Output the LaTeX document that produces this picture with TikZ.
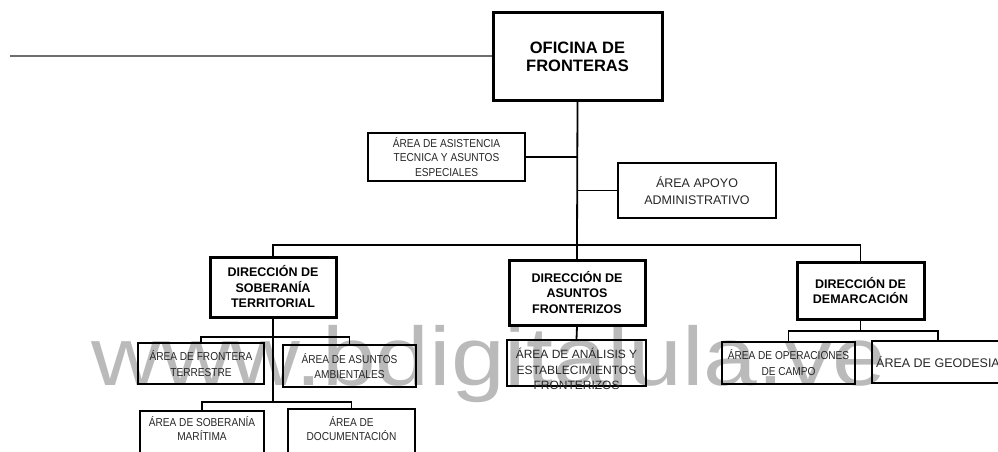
\documentclass[tikz,border=0pt]{standalone}
\usepackage{fontspec}
\setmainfont{Liberation Sans}
\newfontfamily\narrowfont[FakeStretch=0.88]{Liberation Sans}
\definecolor{wmgray}{RGB}{186,186,186}
\definecolor{linegray}{RGB}{110,110,110}
\tikzset{
  bigbox/.style={draw, line width=3pt, align=center, inner sep=0pt, text=black},
  areabox/.style={draw, line width=1.8pt, align=center, inner sep=0pt, text=black!85},
  plaintext/.style={align=center, inner sep=0pt, text=black!85},
  conn/.style={line width=1.8pt, line cap=rect},
  dirfont/.style={font=\fontsize{12.5}{15.5}\selectfont\bfseries},
  smallfont/.style={font=\narrowfont\fontsize{11.5}{14.5}\selectfont},
}
\begin{document}
\begin{tikzpicture}[x=1pt,y=-1pt]
\useasboundingbox (0,0) rectangle (998,452);
% watermark
\node[anchor=base west, inner sep=0pt, text=wmgray, font=\fontsize{83}{90}\selectfont] (wm) at (91,385) {\scalebox{1.165}[1]{www.bdigitalula.ve}};

% top
\node[bigbox, minimum width=169pt, minimum height=87pt, font=\fontsize{16.5}{18}\selectfont\bfseries] (ofi) at (577.5,56.5) {OFICINA DE\\FRONTERAS};
\coordinate (leftend) at (10,56.5);
\draw[line width=2pt, linegray] (leftend) -- (ofi.west);

\node[areabox, minimum width=157pt, minimum height=48pt, smallfont] (asis) at (446.5,157) {ÁREA DE ASISTENCIA\\TECNICA Y ASUNTOS\\ESPECIALES};
\node[areabox, minimum width=158pt, minimum height=55pt, font=\fontsize{12.5}{17}\selectfont] (apoyo) at (697,190.5) {ÁREA APOYO\\ADMINISTRATIVO};

% directions
\node[bigbox, minimum width=126pt, minimum height=60pt, dirfont] (sob) at (273,287) {DIRECCIÓN DE\\SOBERANÍA\\TERRITORIAL};
\node[bigbox, minimum width=136pt, minimum height=65pt, dirfont] (asun) at (577,292.5) {DIRECCIÓN DE\\ASUNTOS\\FRONTERIZOS};
\node[bigbox, minimum width=127pt, minimum height=57pt, dirfont] (dem) at (860.5,290.5) {DIRECCIÓN DE\\DEMARCACIÓN};

% areas under soberania
\node[areabox, minimum width=126pt, minimum height=41pt, font=\narrowfont\fontsize{11.5}{15.5}\selectfont] (front) at (201,363.5) {ÁREA DE FRONTERA\\TERRESTRE};
\node[areabox, minimum width=133pt, minimum height=42pt, font=\narrowfont\fontsize{11.5}{15.5}\selectfont] (amb) at (349.5,366) {ÁREA DE ASUNTOS\\AMBIENTALES};
\node[areabox, minimum width=124pt, minimum height=49pt] (marit) at (202,435.5) {};
\node[plaintext, font=\narrowfont\fontsize{11.5}{14}\selectfont] (maritT) at (202,429) {ÁREA DE SOBERANÍA\\MARÍTIMA};
\node[areabox, minimum width=127pt, minimum height=51pt] (doc) at (351.5,434.5) {};
\node[plaintext, font=\narrowfont\fontsize{11.5}{14}\selectfont] (docT) at (351.5,429) {ÁREA DE\\DOCUMENTACIÓN};

% area under asuntos
\node[areabox, minimum width=139pt, minimum height=46pt] (anal) at (576.5,363) {};
\node[plaintext, font=\fontsize{12}{15.5}\selectfont] (analT) at (576.5,369) {ÁREA DE ANÁLISIS Y\\ESTABLECIMIENTOS\\FRONTERIZOS};

% areas under demarcacion
\node[areabox, minimum width=133pt, minimum height=42pt, font=\narrowfont\fontsize{11.5}{16}\selectfont] (campo) at (788.5,363) {ÁREA DE OPERACIONES\\DE CAMPO};
\node[areabox, minimum width=132pt, minimum height=42pt, font=\fontsize{12.5}{15}\selectfont] (geo) at (938,362) {ÁREA DE GEODESIA};

% connectors
\coordinate (bus) at (577,245);
\draw[conn] (ofi.south) -- (bus);
\draw[conn] (asis.east) -- (asis.east -| ofi.south);
\draw[conn] (ofi.south |- apoyo.west) -- (apoyo.west);
\draw[conn] (sob.north) |- (bus) -| (dem.north);
\draw[conn] (bus) -- (asun.north);

\coordinate (sobA) at (273,337);
\coordinate (sobB) at (273,402);
\draw[conn] (sob.south) -- (sobB);
\draw[conn] (front.north) |- (sobA) -| (amb.north);
\draw[conn] (marit.north) |- (sobB) -| (doc.north);

\draw[conn] (asun.south) -- (anal.north);

\coordinate (demA) at (860.5,331);
\draw[conn] (dem.south) -- (demA);
\draw[conn] (campo.north) |- (demA) -| (geo.north);
\end{tikzpicture}
\end{document}
